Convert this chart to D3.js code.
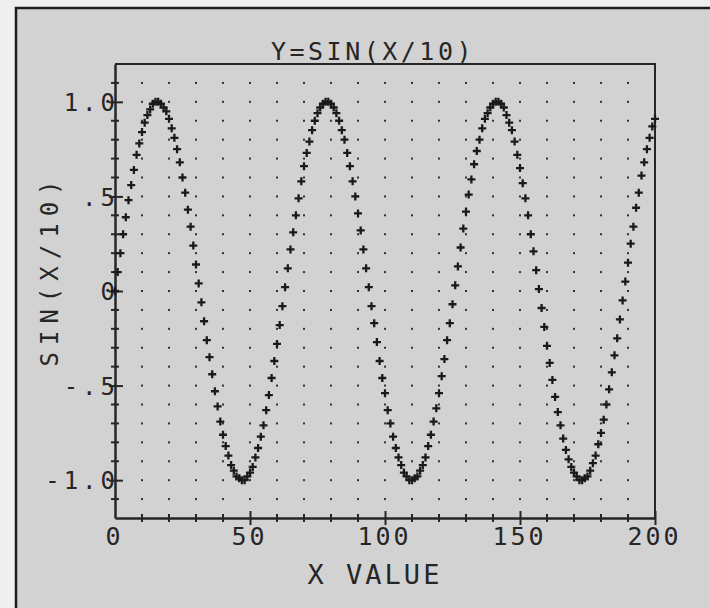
<!DOCTYPE html>
<html>
<head>
<meta charset="utf-8">
<script src="https://cdn.jsdelivr.net/npm/d3@7.9.0/dist/d3.min.js"></script>
<style>
  html, body { margin: 0; padding: 0; background: #efefef; }
  svg { display: block; }
  text { font-family: "DejaVu Sans Mono", monospace; fill: #262626; }
</style>
</head>
<body>
<svg id="chart" width="710" height="608"></svg>
<script>
// values, one per x step of 1 (x = 0 .. 200)
const sinValues = [
  0.00, 0.10, 0.20, 0.30, 0.39, 0.48, 0.56, 0.64, 0.72, 0.78,
  0.84, 0.89, 0.93, 0.96, 0.99, 1.00, 1.00, 0.99, 0.97, 0.95,
  0.91, 0.86, 0.81, 0.75, 0.68, 0.60, 0.52, 0.43, 0.34, 0.24,
  0.14, 0.04, -0.06, -0.16, -0.26, -0.35, -0.44, -0.53, -0.61, -0.69,
  -0.76, -0.82, -0.87, -0.92, -0.95, -0.98, -0.99, -1.00, -1.00, -0.98,
  -0.96, -0.93, -0.88, -0.83, -0.77, -0.71, -0.63, -0.55, -0.46, -0.37,
  -0.28, -0.18, -0.08, 0.02, 0.12, 0.22, 0.31, 0.40, 0.49, 0.58,
  0.66, 0.73, 0.79, 0.85, 0.90, 0.94, 0.97, 0.99, 1.00, 1.00,
  0.99, 0.97, 0.94, 0.90, 0.85, 0.80, 0.73, 0.66, 0.58, 0.50,
  0.41, 0.32, 0.22, 0.12, 0.02, -0.08, -0.17, -0.27, -0.37, -0.46,
  -0.54, -0.63, -0.70, -0.77, -0.83, -0.88, -0.92, -0.96, -0.98, -1.00,
  -1.00, -0.99, -0.98, -0.95, -0.92, -0.88, -0.82, -0.76, -0.69, -0.62,
  -0.54, -0.45, -0.36, -0.26, -0.17, -0.07, 0.03, 0.13, 0.23, 0.33,
  0.42, 0.51, 0.59, 0.67, 0.74, 0.80, 0.86, 0.91, 0.94, 0.97,
  0.99, 1.00, 1.00, 0.99, 0.97, 0.93, 0.89, 0.85, 0.79, 0.72,
  0.65, 0.57, 0.49, 0.40, 0.30, 0.21, 0.11, 0.01, -0.09, -0.19,
  -0.29, -0.38, -0.47, -0.56, -0.64, -0.71, -0.78, -0.84, -0.89, -0.93,
  -0.96, -0.98, -1.00, -1.00, -0.99, -0.98, -0.95, -0.91, -0.87, -0.81,
  -0.75, -0.68, -0.60, -0.52, -0.43, -0.34, -0.25, -0.15, -0.05, 0.05,
  0.15, 0.25, 0.34, 0.44, 0.52, 0.61, 0.68, 0.75, 0.81, 0.87,
  0.91
];

const xTickValues = [0, 50, 100, 150, 200];
const xTickLabels = ['0', '50', '100', '150', '200'];
const yTickValues = [1, 0.5, 0, -0.5, -1];
const yTickLabels = ['1.0', '.5', '0', '-.5', '-1.0'];
const xMinorTicks = [10, 20, 30, 40, 60, 70, 80, 90, 110, 120, 130, 140, 160, 170, 180, 190];
const yMinorTicks = [1.1, 0.9, 0.8, 0.7, 0.6, 0.4, 0.3, 0.2, 0.1, -0.1, -0.2, -0.3, -0.4,
                     -0.6, -0.7, -0.8, -0.9, -1.1];
const gridX = [10, 20, 30, 40, 50, 60, 70, 80, 90, 100, 110, 120, 130, 140, 150, 160, 170, 180, 190];
const gridY = [1.1, 1.0, 0.9, 0.8, 0.7, 0.6, 0.5, 0.4, 0.3, 0.2, 0.1, 0, -0.1, -0.2, -0.3,
               -0.4, -0.5, -0.6, -0.7, -0.8, -0.9, -1.0, -1.1];

const title = 'Y=SIN(X/10)';
const xTitle = 'X VALUE';
const yTitle = 'SIN(X/10)';

const ink = '#262626';
const svg = d3.select('#chart');

// photo paper + print area
svg.append('rect').attr('x', 16).attr('y', 8).attr('width', 694).attr('height', 600)
  .attr('fill', '#d2d2d2');
svg.append('path').attr('d', 'M16,608V8H710')
  .attr('fill', 'none').attr('stroke', '#1c1c1c').attr('stroke-width', 2.5);

const x = d3.scaleLinear().domain([0, 200]).range([115, 655]);
const y = d3.scaleLinear().domain([-1.2, 1.2]).range([518, 64]);

// frame top + right
svg.append('path')
  .attr('d', `M${x(0)},${y(1.2)}H${x(200)}V${y(-1.2)}`)
  .attr('fill', 'none').attr('stroke', ink).attr('stroke-width', 2);

// dotted grid
const dots = [];
gridX.forEach(gx => gridY.forEach(gy => dots.push([gx, gy])));
svg.append('g').selectAll('rect')
  .data(dots)
  .join('rect')
  .attr('x', d => x(d[0]) - 1)
  .attr('y', d => y(d[1]) - 1)
  .attr('width', 2).attr('height', 2)
  .attr('fill', '#333');

// axes
const xAxis = svg.append('g')
  .attr('transform', `translate(0,${y(-1.2)})`)
  .call(d3.axisBottom(x).tickValues(xTickValues).tickSize(0)
    .tickFormat((d, i) => xTickLabels[i]));
xAxis.select('.domain').attr('stroke', ink).attr('stroke-width', 2.5);
xAxis.selectAll('.tick text')
  .attr('y', 9).attr('dy', '0.71em').attr('dx', -1)
  .style('font-size', '25px').style('letter-spacing', '3px')
  .attr('fill', ink);
xAxis.selectAll('.tick line').remove();
xAxis.selectAll('.tick').filter(d => d > 0).append('line')
  .attr('y1', -7).attr('y2', 7).attr('stroke', ink).attr('stroke-width', 2);
xAxis.append('g').selectAll('line')
  .data(xMinorTicks)
  .join('line')
  .attr('x1', d => x(d)).attr('x2', d => x(d))
  .attr('y1', -4).attr('y2', 4)
  .attr('stroke', ink).attr('stroke-width', 2);

const yAxis = svg.append('g')
  .attr('transform', `translate(${x(0)},0)`)
  .call(d3.axisLeft(y).tickValues(yTickValues).tickSize(0)
    .tickFormat((d, i) => yTickLabels[i]));
yAxis.select('.domain').attr('stroke', ink).attr('stroke-width', 2.5);
yAxis.selectAll('.tick text')
  .attr('x', 4).attr('dy', '0.36em')
  .style('font-size', '24px').style('letter-spacing', '4px')
  .attr('fill', ink);
yAxis.selectAll('.tick line').remove();
yAxis.selectAll('.tick').append('line')
  .attr('x1', -6).attr('x2', 8).attr('stroke', ink).attr('stroke-width', 2);
yAxis.append('g').selectAll('line')
  .data(yMinorTicks)
  .join('line')
  .attr('y1', d => y(d)).attr('y2', d => y(d))
  .attr('x1', -4).attr('x2', 4)
  .attr('stroke', ink).attr('stroke-width', 2);

// plotted points as "+" marks
const points = sinValues.map((v, i) => ({ x: i, y: v }));
svg.append('g').selectAll('path')
  .data(points)
  .join('path')
  .attr('transform', d => `translate(${x(d.x)},${y(d.y)})`)
  .attr('d', 'M-4,0H4M0,-4V4')
  .attr('stroke', '#1a1a1a').attr('stroke-width', 2.3).attr('fill', 'none');

// titles
svg.append('text')
  .attr('x', 373).attr('y', 60)
  .attr('text-anchor', 'middle')
  .style('font-size', '25px').style('letter-spacing', '3.5px')
  .text(title);

svg.append('text')
  .attr('x', 375).attr('y', 584)
  .attr('text-anchor', 'middle')
  .style('font-size', '27px').style('letter-spacing', '3px')
  .text(xTitle);

svg.append('text')
  .attr('transform', 'translate(58,270) rotate(-90)')
  .attr('text-anchor', 'middle')
  .style('font-size', '24px').style('letter-spacing', '7px')
  .text(yTitle);
</script>
</body>
</html>
